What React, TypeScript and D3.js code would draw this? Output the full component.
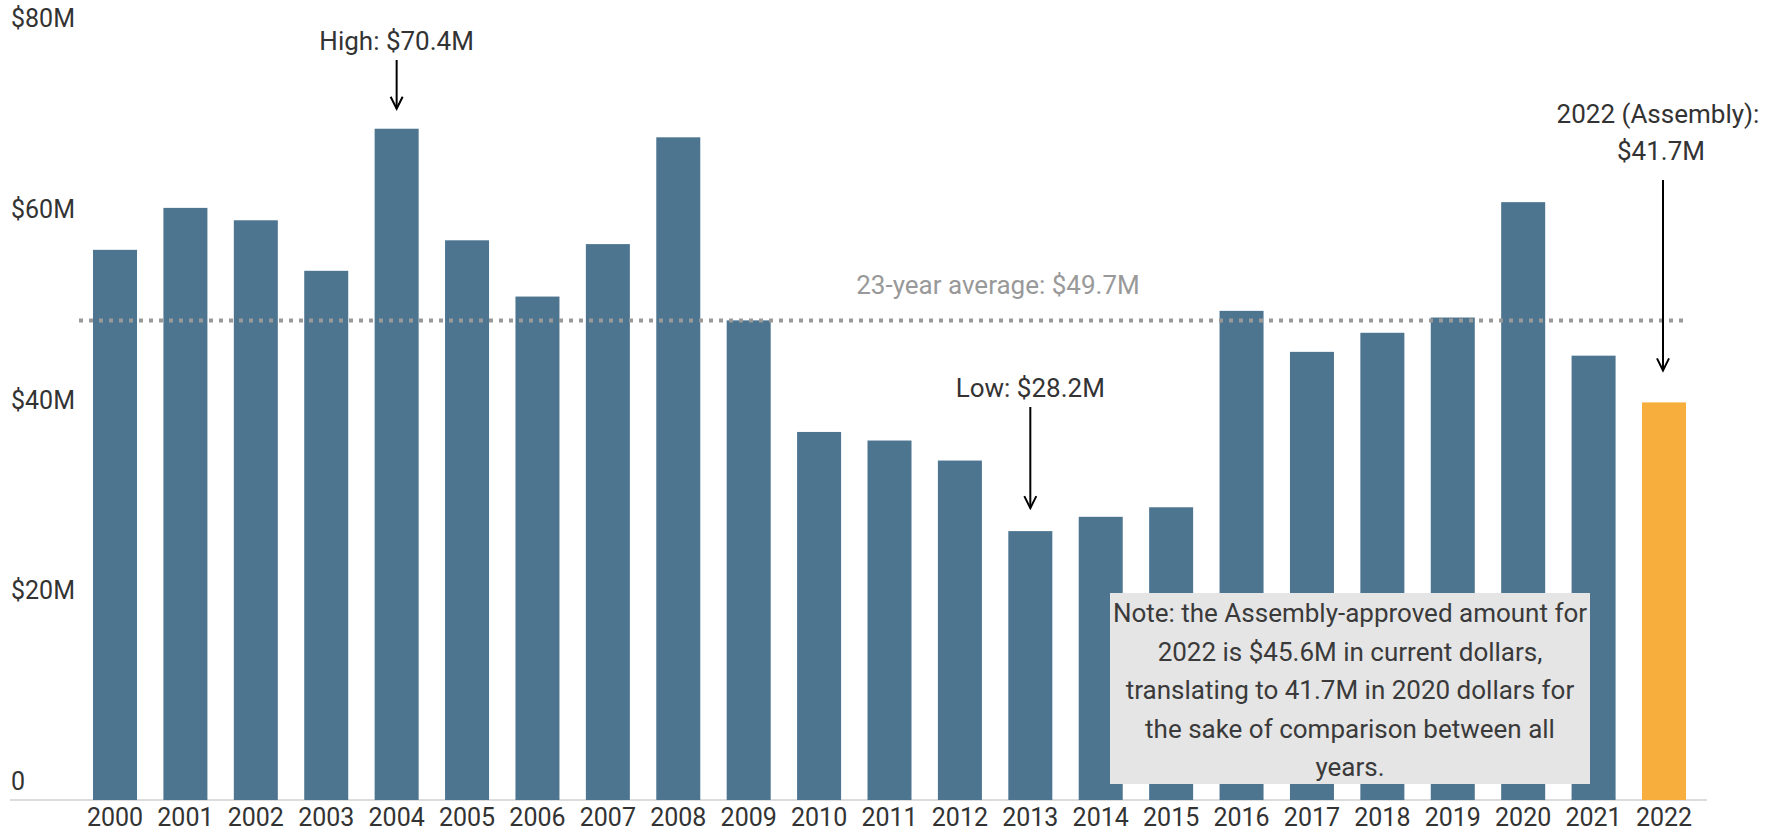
import React from "react";
import * as d3 from "d3";

const years = ["2000","2001","2002","2003","2004","2005","2006","2007","2008","2009","2010","2011","2012","2013","2014","2015","2016","2017","2018","2019","2020","2021","2022"];
const values = [57.7,62.1,60.8,55.5,70.4,58.7,52.8,58.3,69.5,50.3,38.6,37.7,35.6,28.2,29.7,30.7,51.3,47.0,49.0,50.6,62.7,46.6,41.7];
const yTicks = [0, 20, 40, 60, 80];
const tickLabels = ["0", "$20M", "$40M", "$60M", "$80M"];
const averageLabel = "23-year average: $49.7M";
const averageLineAt = 50.3; // position of the dotted line as drawn in the reference
const noteLines = [
  "Note: the Assembly-approved amount for",
  "2022 is $45.6M in current dollars,",
  "translating to 41.7M in 2020 dollars for",
  "the sake of comparison between all",
  "years.",
];

const W = 1775;
const H = 832;
const BAR = "#4d7590";
const HIGHLIGHT = "#f8ae3c";
const TEXT = "#333333";
const FONT = "Roboto, 'Noto Sans', sans-serif";
const AX = 25;
const ANN = 26;

export default function App() {
  const x = d3.scaleBand<string>().domain(years).range([66.6, 1712.4]).padding(0.375);
  const y = d3.scaleLinear().domain([0, 80]).range([800, 37.2]);
  const bw = x.bandwidth();
  const cx = (yr: string) => (x(yr) as number) + bw / 2;

  const arrow = (xx: number, y1: number, y2: number) => (
    <g stroke="#000" strokeWidth={2} fill="none">
      <line x1={xx} x2={xx} y1={y1} y2={y2} />
      <path d={`M${xx - 6},${y2 - 12} L${xx},${y2} L${xx + 6},${y2 - 12}`} strokeLinejoin="miter" />
    </g>
  );

  const iHigh = values.indexOf(d3.max(values) as number);
  const iLow = values.indexOf(d3.min(values) as number);
  const last = years.length - 1;

  return (
    <svg
      width={W}
      height={H}
      style={{ position: "fixed", left: 0, top: 0, background: "#fff" }}
      fontFamily={FONT}
    >
      {yTicks.map((t, i) => (
        <text key={t} x={11} y={y(t) - 10} fontSize={AX} fill={TEXT}>
          {tickLabels[i]}
        </text>
      ))}
      <line x1={10} x2={1707} y1={y(0)} y2={y(0)} stroke="#d0d0d0" strokeWidth={1.5} />
      {years.map((yr, i) => (
        <rect
          key={yr}
          x={x(yr)}
          y={y(values[i])}
          width={bw}
          height={y(0) - y(values[i])}
          fill={i === last ? HIGHLIGHT : BAR}
        />
      ))}
      {years.map((yr) => (
        <text key={yr} x={cx(yr)} y={826} fontSize={AX} fill={TEXT} textAnchor="middle">
          {yr}
        </text>
      ))}
      <line
        x1={79}
        x2={1689}
        y1={y(averageLineAt)}
        y2={y(averageLineAt)}
        stroke="#999"
        strokeWidth={4}
        strokeDasharray="4 6"
      />
      <text x={998} y={294} fontSize={ANN} fill="#999" textAnchor="middle">
        {averageLabel}
      </text>
      <text x={cx(years[iHigh])} y={50} fontSize={ANN} fill={TEXT} textAnchor="middle">
        {`High: $${values[iHigh].toFixed(1)}M`}
      </text>
      {arrow(cx(years[iHigh]), 60, y(values[iHigh]) - 20)}
      <text x={cx(years[iLow])} y={397} fontSize={ANN} fill={TEXT} textAnchor="middle">
        {`Low: $${values[iLow].toFixed(1)}M`}
      </text>
      {arrow(cx(years[iLow]), 407, y(values[iLow]) - 23)}
      <text x={cx(years[last]) - 6} y={123} fontSize={ANN} fill={TEXT} textAnchor="middle">
        {`${years[last]} (Assembly):`}
      </text>
      <text x={cx(years[last]) - 3} y={160} fontSize={ANN} fill={TEXT} textAnchor="middle">
        {`$${values[last].toFixed(1)}M`}
      </text>
      {arrow(cx(years[last]) - 1, 180, y(values[last]) - 32)}
      <rect x={1110} y={593} width={480} height={191} fill="#e5e5e5" />
      {noteLines.map((l, i) => (
        <text key={i} x={1350} y={622 + i * 38.5} fontSize={ANN} fill="#3a3a3a" textAnchor="middle">
          {l}
        </text>
      ))}
    </svg>
  );
}
